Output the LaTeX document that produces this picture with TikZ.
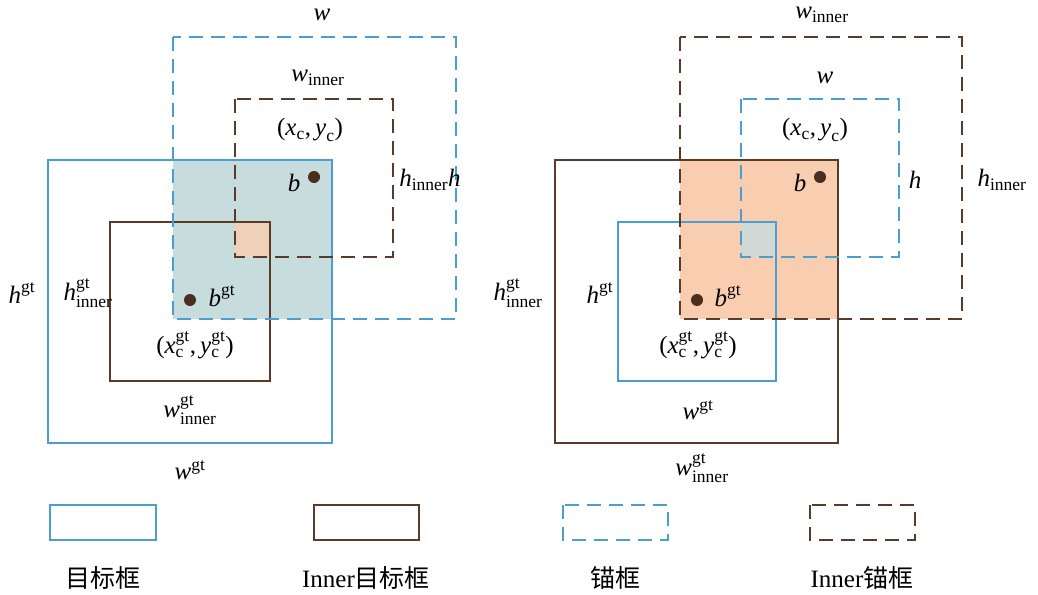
\documentclass[tikz,border=0pt]{standalone}
\usepackage{amsmath}
\usepackage{fontspec}
\setmainfont{Liberation Serif}
\newfontfamily\cjk{Noto Sans CJK SC}
\newcommand{\vi}[1]{\text{\itshape #1}}
\newcommand{\tr}[1]{\text{#1}}
\begin{document}
\begin{tikzpicture}[x=1pt,y=-1pt,
  every node/.style={font=\fontsize{25}{29}\selectfont, inner sep=0pt},
  bl/.style={draw=boxblue, line width=1.6pt},
  br/.style={draw=boxbrown, line width=1.6pt},
  dsh/.style={dash pattern=on 14pt off 8pt},
  dot/.style={circle, fill=dotc, minimum size=12pt}]
\definecolor{boxblue}{HTML}{4A9FD0}
\definecolor{boxbrown}{HTML}{5A3A28}
\definecolor{dotc}{HTML}{4A2E1E}
\definecolor{tealf}{HTML}{C7DCDD}
\definecolor{orf}{HTML}{F9CDB0}
\useasboundingbox (0,0) rectangle (1038,594);
% ---- left ----
\fill[tealf] (173,160) rectangle (332,319);
\fill[orf!80!tealf] (235,222) rectangle (270,257);
\draw[bl] (48,160) rectangle (332,443);
\draw[br] (110,222) rectangle (270,381);
\draw[bl,dsh] (173,37) rectangle (456,319);
\draw[br,dsh] (235,99) rectangle (393,257);
\node[dot] (b1) at (314,177) {};
\node[dot] (g1) at (190,300) {};
\node at (322,15) {$\vi{w}$};
\node at (318,78) {$\vi{w}_{\tr{inner}}$};
\node at (310,130) {$\tr{(}\vi{x}_{\tr{c}}\tr{,}\,\vi{y}_{\tr{c}}\tr{)}$};
\node at (294,183) {$\vi{b}$};
\node at (430,180) {$\vi{h}_{\tr{inner}}\vi{h}$};
\node at (22,293) {$\vi{h}^{\tr{gt}}$};
\node at (88,293) {$\vi{h}^{\tr{gt}}_{\tr{inner}}$};
\node at (222,296) {$\vi{b}^{\tr{gt}}$};
\node at (195,345) {$\tr{(}\vi{x}^{\tr{gt}}_{\tr{c}}\tr{,}\,\vi{y}^{\tr{gt}}_{\tr{c}}\tr{)}$};
\node at (190,410) {$\vi{w}^{\tr{gt}}_{\tr{inner}}$};
\node at (190,470) {$\vi{w}^{\tr{gt}}$};
% ---- right ----
\fill[orf] (680,160) rectangle (838,319);
\fill[tealf!80!orf] (741,222) rectangle (776,257);
\draw[br] (555,160) rectangle (838,443);
\draw[bl] (618,222) rectangle (776,381);
\draw[br,dsh] (680,37) rectangle (962,319);
\draw[bl,dsh] (741,99) rectangle (899,257);
\node[dot] (b2) at (820,177) {};
\node[dot] (g2) at (697,300) {};
\node at (822,15) {$\vi{w}_{\tr{inner}}$};
\node at (825,78) {$\vi{w}$};
\node at (815,130) {$\tr{(}\vi{x}_{\tr{c}}\tr{,}\,\vi{y}_{\tr{c}}\tr{)}$};
\node at (800,183) {$\vi{b}$};
\node at (915,180) {$\vi{h}$};
\node at (1002,180) {$\vi{h}_{\tr{inner}}$};
\node at (518,293) {$\vi{h}^{\tr{gt}}_{\tr{inner}}$};
\node at (600,293) {$\vi{h}^{\tr{gt}}$};
\node at (728,296) {$\vi{b}^{\tr{gt}}$};
\node at (698,345) {$\tr{(}\vi{x}^{\tr{gt}}_{\tr{c}}\tr{,}\,\vi{y}^{\tr{gt}}_{\tr{c}}\tr{)}$};
\node at (698,410) {$\vi{w}^{\tr{gt}}$};
\node at (702,468) {$\vi{w}^{\tr{gt}}_{\tr{inner}}$};
% ---- legend ----
\draw[bl] (50,505) rectangle (156,540);
\draw[br] (314,505) rectangle (419,540);
\draw[bl,dsh] (563,505) rectangle (668,540);
\draw[br,dsh] (810,505) rectangle (915,540);
\node (l1) at (103,578) {\cjk 目标框};
\node (l2) at (366,578) {Inner{\cjk 目标框}};
\node (l3) at (615,578) {\cjk 锚框};
\node (l4) at (862,578) {Inner{\cjk 锚框}};
\end{tikzpicture}
\end{document}
